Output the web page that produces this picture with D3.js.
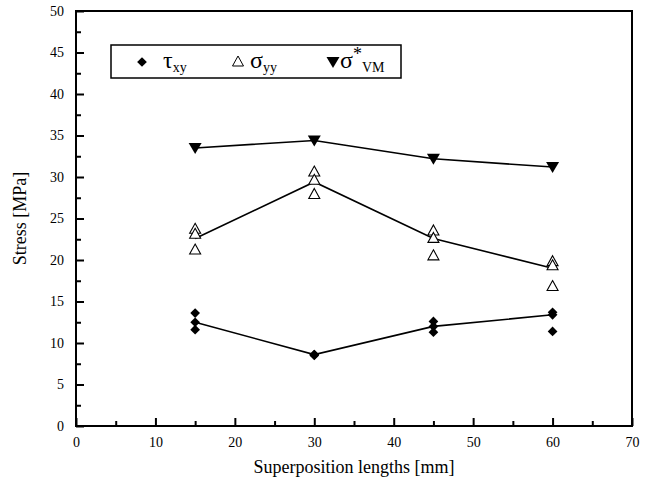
<!DOCTYPE html>
<html>
<head>
<meta charset="utf-8">
<script src="https://cdn.jsdelivr.net/npm/d3@7"></script>
<style>
  body { margin: 0; background: #fff; }
  svg text { font-family: "Liberation Serif", "Times New Roman", Times, "DejaVu Serif", serif; fill: #000; }
</style>
</head>
<body>
<div id="chart"></div>
<script>
// superposition lengths [mm]
const lengths = [15, 30, 45, 60];

// tau_xy: individual specimens and line values
const tauPoints = [[13.6, 12.5, 11.6], [8.6, 8.6, 8.5], [12.6, 12.0, 11.3], [13.7, 13.4, 11.4]];
const tauLine = [12.5, 8.6, 12.0, 13.4];

// sigma_yy
const sigmaPoints = [[23.7, 23.1, 21.2], [30.6, 29.6, 27.9], [23.5, 22.6, 20.5], [19.8, 19.3, 16.8]];
const sigmaLine = [22.6, 29.4, 22.6, 19.0];

// sigma*_VM
const vmLine = [33.5, 34.4, 32.2, 31.2];

const xTicks = [0, 10, 20, 30, 40, 50, 60, 70];
const yTicks = [0, 5, 10, 15, 20, 25, 30, 35, 40, 45, 50];

const serif = "'Liberation Serif', 'Times New Roman', Times, 'DejaVu Serif', serif";

const svgWidth = 648;
const svgHeight = 485;
const margin = { top: 11, right: 16, bottom: 59, left: 76 };
const width = svgWidth - margin.left - margin.right;
const height = svgHeight - margin.top - margin.bottom;

const svg = d3.select("#chart")
    .append("svg")
    .attr("width", svgWidth)
    .attr("height", svgHeight)
    .attr("font-family", serif);

const chartGroup = svg.append("g")
    .attr("transform", `translate(${margin.left}, ${margin.top})`);

const x = d3.scaleLinear().domain([0, 70]).range([0, width]);
const y = d3.scaleLinear().domain([0, 50]).range([height, 0]);

// frame
chartGroup.append("rect")
    .attr("width", width)
    .attr("height", height)
    .attr("fill", "none")
    .attr("stroke", "#000")
    .attr("stroke-width", 2);

// axes: ticks point inward
const bottomAxis = d3.axisBottom(x).tickValues(xTicks).tickSize(-8).tickPadding(8);
const leftAxis = d3.axisLeft(y).tickValues(yTicks).tickSize(-8).tickPadding(12);

const xAxis = chartGroup.append("g")
    .attr("transform", `translate(0, ${height})`)
    .call(bottomAxis);
const yAxis = chartGroup.append("g").call(leftAxis);

// minor ticks
chartGroup.append("g")
    .attr("transform", `translate(0, ${height})`)
    .call(d3.axisBottom(x).tickValues(d3.range(5, 70, 10)).tickSize(-5).tickFormat(""));
chartGroup.append("g")
    .call(d3.axisLeft(y).tickValues(d3.range(2.5, 50, 5)).tickSize(-5).tickFormat(""));

chartGroup.selectAll("g").attr("font-family", serif).attr("font-size", 14);
chartGroup.selectAll(".domain").remove();
chartGroup.selectAll(".tick line").attr("stroke", "#000").attr("stroke-width", 2);
chartGroup.selectAll(".tick text")
    .style("font-family", serif)
    .style("font-size", "14px");
xAxis.selectAll(".tick text").attr("dy", "0.9em");

// axis titles
chartGroup.append("text")
    .attr("x", width / 2)
    .attr("y", height + 47)
    .attr("text-anchor", "middle")
    .style("font-size", "18px")
    .text("Superposition lengths [mm]");

chartGroup.append("text")
    .attr("transform", "rotate(-90)")
    .attr("x", -height / 2)
    .attr("y", -50)
    .attr("text-anchor", "middle")
    .style("font-size", "18px")
    .text("Stress [MPa]");

// lines
const line = d3.line().x((d, i) => x(lengths[i])).y(d => y(d));
[tauLine, sigmaLine, vmLine].forEach(vals => {
    chartGroup.append("path")
        .datum(vals)
        .attr("d", line)
        .attr("fill", "none")
        .attr("stroke", "#000")
        .attr("stroke-width", 1.6);
});

// flatten specimen points
function flatPoints(arr) {
    const out = [];
    arr.forEach((vals, i) => vals.forEach(v => out.push({ x: lengths[i], v: v })));
    return out;
}

const diamond = d3.symbol().type(d3.symbolDiamond2).size(60);
const triUp = "M0,-6L5.5,4L-5.5,4Z";
const triDown = "M0,6L-6.5,-5L6.5,-5Z";

chartGroup.selectAll(".tri")
    .data(flatPoints(sigmaPoints))
    .enter()
    .append("path")
    .attr("class", "tri")
    .attr("d", triUp)
    .attr("transform", d => `translate(${x(d.x)}, ${y(d.v)})`)
    .attr("fill", "#fff")
    .attr("stroke", "#000")
    .attr("stroke-width", 1.1);

chartGroup.selectAll(".dia")
    .data(flatPoints(tauPoints))
    .enter()
    .append("path")
    .attr("class", "dia")
    .attr("d", diamond)
    .attr("transform", d => `translate(${x(d.x)}, ${y(d.v)})`)
    .attr("fill", "#000");

chartGroup.selectAll(".vm")
    .data(vmLine)
    .enter()
    .append("path")
    .attr("class", "vm")
    .attr("d", triDown)
    .attr("transform", (d, i) => `translate(${x(lengths[i])}, ${y(d)})`)
    .attr("fill", "#000");

// legend
const legend = svg.append("g").attr("transform", "translate(111, 45)");
legend.append("rect")
    .attr("width", 290)
    .attr("height", 33)
    .attr("fill", "#fff")
    .attr("stroke", "#000")
    .attr("stroke-width", 1.5);

legend.append("path").attr("d", diamond).attr("transform", "translate(31, 17)").attr("fill", "#000");
const t1 = legend.append("text").attr("x", 52).attr("y", 23).style("font-size", "24px");
t1.append("tspan").text("τ");
t1.append("tspan").attr("dy", 4).style("font-size", "14px").text("xy");

legend.append("path").attr("d", triUp).attr("transform", "translate(127, 17)")
    .attr("fill", "#fff").attr("stroke", "#000").attr("stroke-width", 1);
const t2 = legend.append("text").attr("x", 139).attr("y", 23).style("font-size", "24px");
t2.append("tspan").text("σ");
t2.append("tspan").attr("dy", 4).style("font-size", "14px").text("yy");

legend.append("path").attr("d", triDown).attr("transform", "translate(222, 17)").attr("fill", "#000");
const t3 = legend.append("text").attr("x", 229).attr("y", 23).style("font-size", "24px");
t3.append("tspan").text("σ");
t3.append("tspan").attr("dy", -8).style("font-size", "18px").text("*");
t3.append("tspan").attr("dy", 12).style("font-size", "14px").text("VM");
</script>
</body>
</html>
